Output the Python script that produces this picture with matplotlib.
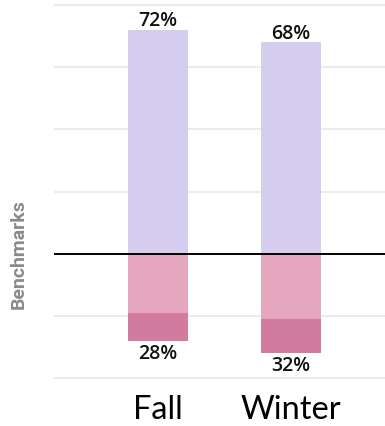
import numpy as np
import matplotlib
matplotlib.use('Agg')
import matplotlib.pyplot as plt

# data (percent)
seasons = ['Fall', 'Winter']
above = [72, 68]          # purple, above the benchmark line
below_light = [19, 21]    # light pink part below the line
below_dark = [9, 11]      # darker pink part below the line
grid_levels = [-40, -20, 20, 40, 60, 80]

c_purple = '#d5cdf0'
c_pink_light = '#e4a7bd'
c_pink_dark = '#d27b9e'

fig = plt.figure(figsize=(3.85, 4.26), dpi=100)
ax = fig.add_axes([0.140, 0.1047, 0.860, 0.891])

x = np.arange(len(seasons))
w = 0.451

for g in grid_levels:
    ax.axhline(g, color='#e9e9e9', lw=1.3, zorder=0)

ax.bar(x, above, width=w, color=c_purple, zorder=2)
lb = -np.array(below_light)
ax.bar(x, lb, width=w, color=c_pink_light, zorder=2)
ax.bar(x, -np.array(below_dark), bottom=lb, width=w, color=c_pink_dark, zorder=2)

ax.axhline(0, color='black', lw=1.4, zorder=3)

lab_font = dict(family=['Open Sans', 'DejaVu Sans'], fontsize=14, fontweight='semibold', color='#111111')
for i in range(len(seasons)):
    ax.annotate(f'{above[i]}%', (x[i], above[i]), xytext=(0, -1), textcoords='offset points',
                ha='center', va='bottom', **lab_font)
    tot = below_light[i] + below_dark[i]
    ax.annotate(f'{tot}%', (x[i], -tot), xytext=(0, -2), textcoords='offset points',
                ha='center', va='top', **lab_font)

ax.set_xlim(-0.782, 1.707)
ax.set_ylim(-41, 81)
ax.set_xticks(x)
ax.set_xticklabels(seasons, fontsize=23.5, family=['Lato', 'DejaVu Sans'])
ax.tick_params(axis='x', length=0, pad=10)
ax.set_yticks([])
for s in ax.spines.values():
    s.set_visible(False)

fig.text(0.05, 0.403, 'Benchmarks', rotation=90, ha='center', va='center',
         fontsize=14, fontweight='bold', color='#8a8a8a', family=['Roboto', 'DejaVu Sans'])

fig.savefig('out.png', dpi=100)
